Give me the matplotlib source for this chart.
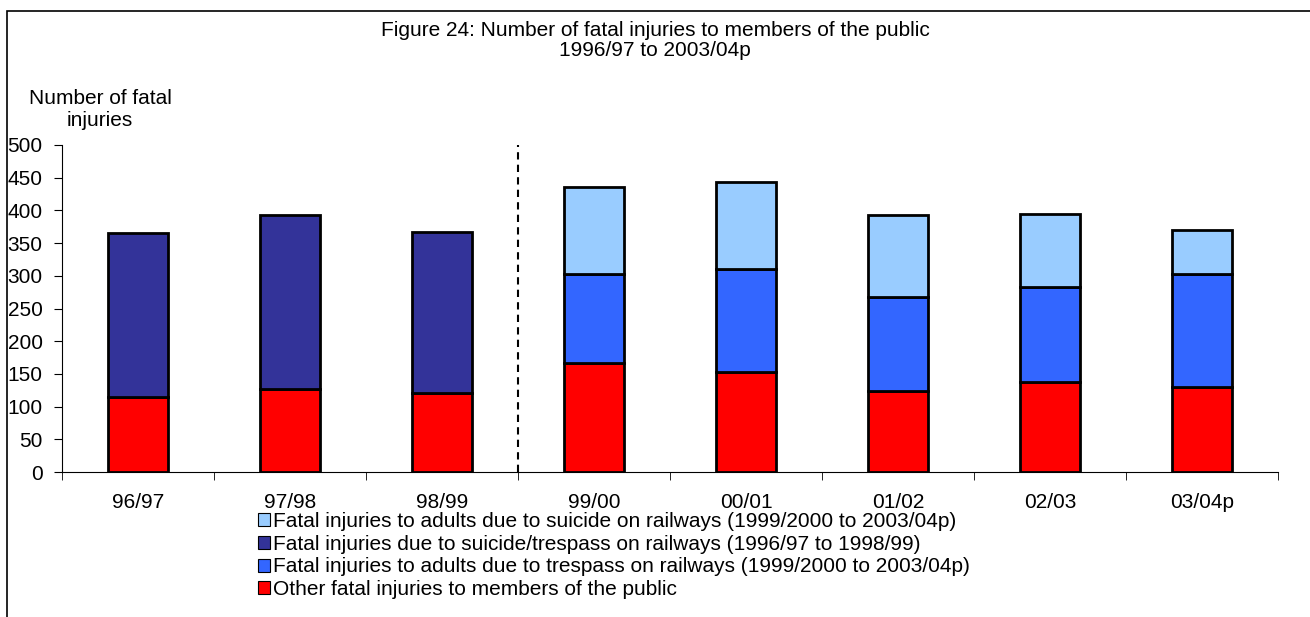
import matplotlib.pyplot as plt
import numpy as np
from matplotlib.patches import Patch, Rectangle

years = ["96/97", "97/98", "98/99", "99/00", "00/01", "01/02", "02/03", "03/04p"]
other = [115, 127, 121, 167, 153, 124, 138, 130]
suicide_trespass = [251, 266, 246, 0, 0, 0, 0, 0]
trespass = [0, 0, 0, 136, 158, 144, 145, 173]
suicide = [0, 0, 0, 133, 132, 125, 112, 67]

labels = [
    "Fatal injuries to adults due to suicide on railways (1999/2000 to 2003/04p)",
    "Fatal injuries due to suicide/trespass on railways (1996/97 to 1998/99)",
    "Fatal injuries to adults due to trespass on railways (1999/2000 to 2003/04p)",
    "Other fatal injuries to members of the public",
]
colors = ["#99CCFF", "#333399", "#3366FF", "#FF0000"]

plt.rcParams['font.family'] = ['Liberation Sans', 'DejaVu Sans']
fs = 15

fig = plt.figure(figsize=(13.1, 6.17), dpi=100)
ax = fig.add_axes([62 / 1310, 1 - 472 / 617, 1216 / 1310, 327 / 617])

x = np.arange(len(years))
w = 0.4
bottom = np.zeros(len(years))
for vals, col in [(other, colors[3]), (suicide_trespass, colors[1]),
                  (trespass, colors[2]), (suicide, colors[0])]:
    v = np.array(vals, dtype=float)
    m = v > 0
    ax.bar(x[m], v[m], w, bottom=bottom[m], color=col, edgecolor="black",
           linewidth=2.0, zorder=3)
    bottom += v

# split between old and new series definitions
ax.plot([2.5, 2.5], [0, 500], color="black", linestyle=(0, (3.5, 2.5)),
        linewidth=1.5, zorder=2)

ax.set_xlim(-0.5, len(years) - 0.5)
ax.set_ylim(0, 500)
ax.set_yticks(np.arange(0, 501, 50))
ax.set_xticks(x)
ax.set_xticklabels(years)
ax.set_xticks(np.arange(-0.5, len(years), 1), minor=True)
ax.tick_params(axis="x", which="major", length=0, labelsize=fs, pad=15)
ax.tick_params(axis="x", which="minor", length=6, direction="out")
ax.tick_params(axis="y", length=6, direction="out", labelsize=fs, pad=8)
ax.spines["top"].set_visible(False)
ax.spines["right"].set_visible(False)

fig.text(0.5, 1 - 30 / 617, "Figure 24: Number of fatal injuries to members of the public",
         ha="center", va="center", fontsize=fs)
fig.text(0.5, 1 - 51 / 617, "1996/97 to 2003/04p", ha="center", va="center", fontsize=fs)
fig.text(100 / 1310, 1 - 109 / 617, "Number of fatal\ninjuries", ha="center",
         va="center", fontsize=fs, linespacing=1.2)

fig.patches.append(Rectangle((7 / 1310, -0.1), 1.2, 1 - 11 / 617 + 0.1,
                             transform=fig.transFigure, fill=False,
                             edgecolor="black", linewidth=1.2))

handles = [Patch(facecolor=c, edgecolor="black", linewidth=0.8) for c in colors]
fig.legend(handles, labels, loc="upper left",
           bbox_to_anchor=(258 / 1310, 1 - 512 / 617), frameon=False,
           fontsize=fs, handlelength=0.57, handleheight=0.57,
           handletextpad=0.15, labelspacing=0.18, borderaxespad=0, borderpad=0)

fig.savefig("out.png", dpi=100)
